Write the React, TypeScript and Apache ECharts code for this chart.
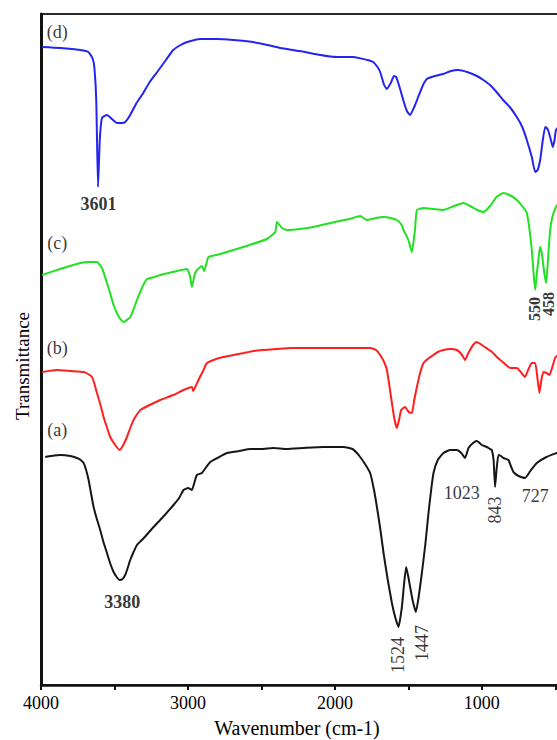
import React, { useEffect, useRef } from "react";
import * as echarts from "echarts";

// Wavenumber (cm-1), transmittance (arbitrary offset units)
const curveD: [number, number][] = [
  [3993, 638], [3870, 637], [3733, 635], [3678, 633], [3650, 627], [3637, 618], [3624, 585], [3612, 498], [3600, 545], [3585, 567],
  [3551, 570], [3510, 565], [3483, 562], [3450, 562], [3427, 563], [3393, 570], [3350, 582], [3304, 592], [3260, 603], [3209, 613],
  [3150, 625], [3100, 635], [3050, 640], [3005, 643], [2916, 646], [2800, 646], [2692, 645], [2560, 643], [2460, 640], [2372, 637],
  [2240, 634], [2100, 630], [1990, 628], [1875, 628], [1780, 625], [1739, 623], [1710, 618], [1692, 613], [1665, 600],
  [1646, 596], [1620, 602], [1598, 609], [1583, 608], [1560, 598], [1535, 585], [1510, 574], [1488, 570], [1460, 578],
  [1433, 588], [1400, 600], [1374, 606], [1320, 609], [1263, 611], [1210, 614], [1161, 615], [1100, 613],
  [1034, 609], [990, 605], [944, 600], [900, 593], [855, 585], [810, 578], [762, 568], [725, 558], [694, 545],
  [660, 528], [637, 513], [620, 515], [603, 525], [585, 545], [569, 558], [559, 557],
  [549, 555], [530, 545], [517, 538], [505, 545], [495, 555], [434, 565],
];
const curveC: [number, number][] = [
  [3993, 410], [3870, 416], [3733, 422], [3665, 423], [3619, 423], [3585, 417], [3551, 402], [3530, 392], [3506, 380],
  [3470, 368], [3438, 363], [3392, 368], [3370, 376], [3347, 385], [3310, 398], [3279, 406], [3230, 408], [3188, 410],
  [3130, 412], [3075, 414], [3007, 416], [2988, 410], [2973, 398], [2955, 410], [2939, 415], [2905, 419], [2889, 414],
  [2870, 424], [2860, 428], [2780, 431], [2690, 435], [2580, 440], [2463, 446], [2406, 453], [2394, 463], [2360, 457], [2326, 455],
  [2240, 456], [2146, 458], [2000, 463], [1900, 466], [1828, 469], [1783, 465], [1720, 467], [1669, 468], [1620, 467], [1578, 465],
  [1545, 460], [1533, 455], [1500, 445], [1476, 433], [1455, 455], [1442, 475], [1397, 477], [1330, 476], [1261, 475], [1190, 479],
  [1125, 482], [1080, 479], [1030, 475], [989, 473], [944, 479], [900, 488], [853, 492], [800, 489], [762, 485], [720, 478],
  [694, 472], [675, 455], [660, 435], [647, 410], [637, 395], [625, 412], [610, 432], [603, 438], [590, 430], [575, 412], [562, 402],
  [550, 425], [535, 455], [520, 468], [495, 478], [434, 490],
];
const curveB: [number, number][] = [
  [3993, 313], [3891, 315], [3800, 314], [3710, 313], [3680, 311], [3653, 308], [3636, 301], [3619, 292], [3595, 280],
  [3574, 268], [3550, 257], [3529, 248], [3495, 240], [3465, 235], [3440, 240], [3415, 248], [3390, 258], [3370, 265],
  [3345, 271], [3324, 275], [3260, 280], [3188, 285], [3100, 290], [3030, 295], [2973, 298], [2964, 294], [2944, 300],
  [2915, 309], [2894, 315], [2871, 322], [2826, 325], [2760, 328], [2690, 330], [2620, 332], [2554, 334], [2480, 335],
  [2394, 336], [2300, 337], [2213, 337], [2000, 337], [1860, 337], [1760, 337], [1720, 335], [1692, 330], [1665, 323], [1646, 315],
  [1630, 300], [1612, 282], [1595, 266], [1578, 257], [1562, 266], [1549, 275], [1522, 278], [1499, 273], [1476, 272],
  [1460, 285], [1442, 298], [1420, 312], [1397, 322], [1360, 327], [1329, 330], [1300, 333], [1261, 335], [1215, 336], [1170, 335],
  [1140, 331], [1114, 325], [1095, 331], [1080, 335], [1060, 340], [1034, 343], [1000, 340], [960, 336], [930, 333], [898, 328],
  [850, 322], [807, 317], [762, 317], [730, 312], [706, 308], [685, 315], [660, 322], [637, 322], [620, 305], [608, 292], [595, 305],
  [581, 313], [560, 312], [540, 310], [520, 318], [498, 328], [434, 335],
];
const curveA: [number, number][] = [
  [3971, 228], [3930, 229], [3869, 230], [3800, 229], [3755, 227], [3730, 225], [3710, 222], [3693, 215], [3676, 205],
  [3660, 192], [3642, 178], [3620, 166], [3597, 155], [3575, 143], [3551, 132], [3530, 122], [3506, 113], [3485, 108],
  [3465, 105], [3445, 106], [3427, 110], [3410, 117], [3393, 125], [3370, 133], [3347, 140], [3300, 147], [3270, 152],
  [3234, 158], [3170, 168], [3098, 180], [3060, 187], [3030, 195], [3000, 197], [2973, 195], [2955, 203], [2939, 210],
  [2905, 212], [2875, 218], [2848, 223], [2800, 227], [2735, 232], [2650, 234], [2576, 236], [2500, 236], [2418, 237],
  [2330, 236], [2214, 237], [2080, 238], [1941, 238], [1880, 236], [1850, 232], [1828, 228], [1795, 221], [1760, 212],
  [1735, 196], [1714, 178], [1690, 155], [1669, 132], [1640, 105], [1612, 82], [1590, 68], [1567, 58], [1544, 78],
  [1530, 100], [1515, 118], [1500, 108], [1488, 98], [1470, 84], [1449, 73], [1430, 88], [1408, 112], [1385, 140],
  [1363, 172], [1345, 195], [1329, 212], [1300, 225], [1261, 232], [1215, 235], [1170, 235], [1140, 232], [1114, 227],
  [1091, 237], [1060, 242], [1034, 244], [1000, 240], [966, 238], [945, 236], [932, 235], [920, 225], [910, 198],
  [900, 215], [887, 230], [870, 229], [853, 227], [819, 225], [800, 218], [785, 213], [750, 209], [706, 207],
  [670, 214], [626, 222], [560, 228], [490, 232], [434, 235],
];

const tickValues = [4000, 3500, 3000, 2500, 2000, 1500, 1000, 500];
const labelValues = [4000, 3000, 2000, 1000];

// text, wavenumber, transmittance, rotated, bold
const annotations: [string, number, number, boolean, boolean][] = [
  ["(d)", 3889, 653, false, false],
  ["(c)", 3889, 442, false, false],
  ["(b)", 3889, 337, false, false],
  ["(a)", 3889, 255, false, false],
  ["3601", 3608, 481, false, true],
  ["3380", 3447, 83, false, true],
  ["1524", 1569, 30, true, false],
  ["1447", 1408, 42, true, false],
  ["1023", 1136, 192, false, false],
  ["843", 909, 175, true, false],
  ["727", 637, 189, false, false],
  ["550", 640, 376, true, true],
  ["458", 549, 381, true, true],
];

const SERIF = "'Liberation Serif', 'Times New Roman', serif";

export default function App() {
  const ref = useRef<HTMLDivElement>(null);
  useEffect(() => {
    if (!ref.current) return;
    const chart = echarts.init(ref.current, null, { renderer: "svg" });
    const line = (name: string, data: [number, number][], color: string) => ({
      name,
      type: "line",
      data,
      showSymbol: false,
      symbol: "none",
      smooth: 0.15,
      lineStyle: { color, width: 2 },
      z: 3,
    });
    chart.setOption({
      animation: false,
      backgroundColor: "#ffffff",
      grid: {
        left: 41,
        top: 14,
        width: 529,
        height: 671,
        show: true,
        borderColor: "#2a2a2a",
        borderWidth: 2,
      },
      xAxis: {
        type: "value",
        inverse: true,
        min: 400,
        max: 4000,
        axisLine: { show: true, lineStyle: { color: "#111", width: 2.5 } },
        axisTick: {
          show: true,
          inside: false,
          length: 5,
          lineStyle: { color: "#111", width: 2 },
          customValues: tickValues,
        },
        axisLabel: {
          customValues: labelValues,
          formatter: (v: number) => String(v),
          fontFamily: SERIF,
          fontSize: 18,
          color: "#000",
          margin: 9,
        },
        splitLine: { show: false },
      },
      yAxis: {
        type: "value",
        min: 0,
        max: 671,
        axisLine: { show: true, lineStyle: { color: "#111", width: 3 } },
        axisTick: { show: false },
        axisLabel: { show: false },
        splitLine: { show: false },
      },
      graphic: [
        {
          type: "text",
          x: 22,
          y: 366,
          rotation: Math.PI / 2,
          style: {
            text: "Transmittance",
            font: `19px ${SERIF}`,
            fill: "#000",
            align: "center",
            verticalAlign: "middle",
          },
        },
        {
          type: "text",
          x: 297,
          y: 728,
          style: {
            text: "Wavenumber (cm-1)",
            font: `20px ${SERIF}`,
            fill: "#000",
            align: "center",
            verticalAlign: "middle",
          },
        },
      ],
      series: [
        line("(d)", curveD, "#2424f0"),
        line("(c)", curveC, "#22e022"),
        line("(b)", curveB, "#ff1f1f"),
        line("(a)", curveA, "#161616"),
        {
          type: "scatter",
          symbolSize: 0,
          z: 5,
          data: annotations.map(([t, x, y, rot, bold]) => ({
            value: [x, y],
            name: t,
            label: {
              show: true,
              position: "inside",
              formatter: t,
              rotate: rot ? 90 : 0,
              fontFamily: SERIF,
              fontSize: rot && bold ? 16 : 18,
              lineHeight: rot ? 14 : 20,
              fontWeight: bold ? "bold" : "normal",
              color: "#000",
              align: "center",
              verticalAlign: "middle",
            },
          })),
        },
      ],
    });
    return () => chart.dispose();
  }, []);
  return (
    <div style={{ position: "absolute", left: 0, top: 0, width: 557, height: 740, overflow: "hidden", background: "#fff" }}>
      <div ref={ref} style={{ width: 620, height: 740 }} />
    </div>
  );
}
